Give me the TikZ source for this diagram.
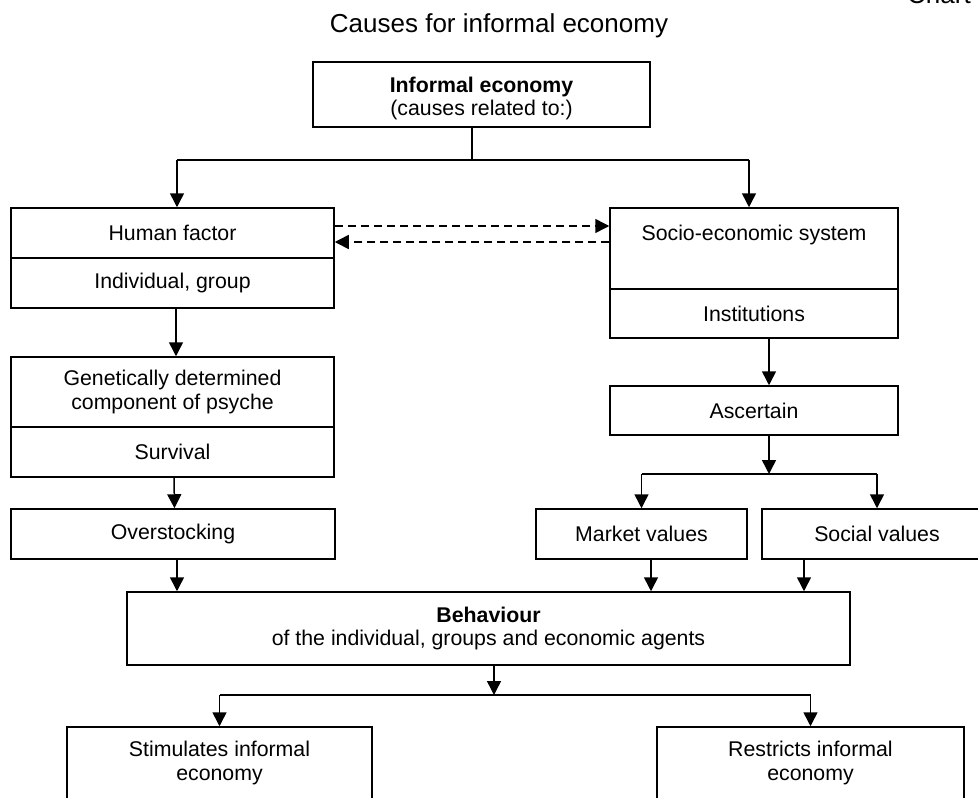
\documentclass[tikz,border=0pt]{standalone}
\usepackage{fontspec}
\setmainfont{Liberation Sans}
\usetikzlibrary{arrows.meta}
\newcommand\bodyfont{\fontsize{21.3}{23.5}\selectfont}
\newcommand\titlefont{\fontsize{26}{30}\selectfont}
\tikzset{
  box/.style={draw, line width=1.5pt, inner sep=0pt, align=center, font=\bodyfont},
  txt/.style={inner sep=0pt, align=center, font=\bodyfont},
  conn/.style={line width=1.5pt},
  arr/.style={line width=1.5pt, -{Triangle[length=14pt,width=14pt]}},
  darr/.style={arr, dash pattern=on 8pt off 5pt}
}
\begin{document}
\begin{tikzpicture}[x=1pt,y=-1pt]
\useasboundingbox (0,0) rectangle (978,798);
\clip (0,0) rectangle (978,798);
% titles
\node[inner sep=0pt, font=\titlefont, anchor=base] (title) at (499,32) {Causes for informal economy};
\node[inner sep=0pt, font=\titlefont, anchor=base west] (chart) at (907,3) {Chart};
% top box
\node[box, minimum width=337pt, minimum height=65pt] (ie) at (481.5,94.5) {};
\node[txt] (iet) at (481.5,98.5) {\textbf{Informal economy}\\(causes related to:)};
% left column
\node[box, minimum width=323pt, minimum height=50pt] (hf1) at (172.5,233) {Human factor};
\node[box, minimum width=323pt, minimum height=50pt] (hf2) at (172.5,283) {Individual, group};
\node[box, minimum width=323pt, minimum height=70pt] (gen1) at (172.5,392) {Genetically determined\\component of psyche};
\node[box, minimum width=323pt, minimum height=50pt] (gen2) at (172.5,452) {Survival};
\node[box, minimum width=324pt, minimum height=50pt] (ov) at (173,534) {Overstocking};
% right column
\node[box, minimum width=288pt, minimum height=81pt] (se1) at (754,248.5) {};
\node[txt, anchor=base] (set) at (754,240) {Socio-economic system};
\node[box, minimum width=288pt, minimum height=49pt] (se2) at (754,313.5) {Institutions};
\node[box, minimum width=288pt, minimum height=49pt] (asc) at (754,410.5) {Ascertain};
\node[box, minimum width=211pt, minimum height=50pt] (mv) at (641.5,534) {Market values};
\node[box, minimum width=230pt, minimum height=50pt] (sv) at (877,534) {Social values};
% behaviour
\node[box, minimum width=723pt, minimum height=73pt] (beh) at (488.5,628.5) {\textbf{Behaviour}\\of the individual, groups and economic agents};
% bottom boxes (cut by page edge)
\node[box, minimum width=305pt, minimum height=123pt] (st) at (219.5,788.5) {};
\node[txt] (stt) at (219.5,763) {Stimulates informal\\economy};
\node[box, minimum width=307pt, minimum height=123pt] (rs) at (810.5,788.5) {};
\node[txt] (rst) at (810.5,763) {Restricts informal\\economy};
% junction coordinates
\coordinate (j1) at (472,160);
\coordinate (jL) at (177,160);
\coordinate (jR) at (749,160);
\coordinate (dy1) at (472,226);
\coordinate (dy2) at (472,242);
\coordinate (j2) at (769,474);
\coordinate (j3) at (494,695);
% connectors
\draw[conn] (ie.south -| j1) -- (j1);
\draw[conn] (jL) -- (jR);
\draw[arr] (jL) -- (hf1.north -| jL);
\draw[arr] (jR) -- (se1.north -| jR);
\draw[darr] (hf1.east |- dy1) -- (se1.west |- dy1);
\draw[darr] (se1.west |- dy2) -- (hf1.east |- dy2);
\draw[arr] ([xshift=3.5pt]hf2.south) -- ([xshift=3.5pt]gen1.north);
\draw[arr] ([xshift=1.5pt]gen2.south) -- ([xshift=1.5pt]ov.north);
\draw[arr] ([xshift=4pt]ov.south) coordinate (o1) -- (o1 |- beh.north);
\draw[arr] ([xshift=15pt]se2.south) -- ([xshift=15pt]asc.north);
\draw[arr] ([xshift=15pt]asc.south) -- (j2);
\draw[conn] (mv.north |- j2) -- (sv.north |- j2);
\draw[arr] (mv.north |- j2) -- (mv.north);
\draw[arr] (sv.north |- j2) -- (sv.north);
\draw[arr] ([xshift=9.5pt]mv.south) coordinate (m1) -- (m1 |- beh.north);
\draw[arr] ([xshift=-73pt]sv.south) coordinate (s1) -- (s1 |- beh.north);
\draw[arr] ([xshift=5.5pt]beh.south) -- (j3);
\draw[conn] (st.north |- j3) -- (rs.north |- j3);
\draw[arr] (st.north |- j3) -- (st.north);
\draw[arr] (rs.north |- j3) -- (rs.north);
\end{tikzpicture}
\end{document}
